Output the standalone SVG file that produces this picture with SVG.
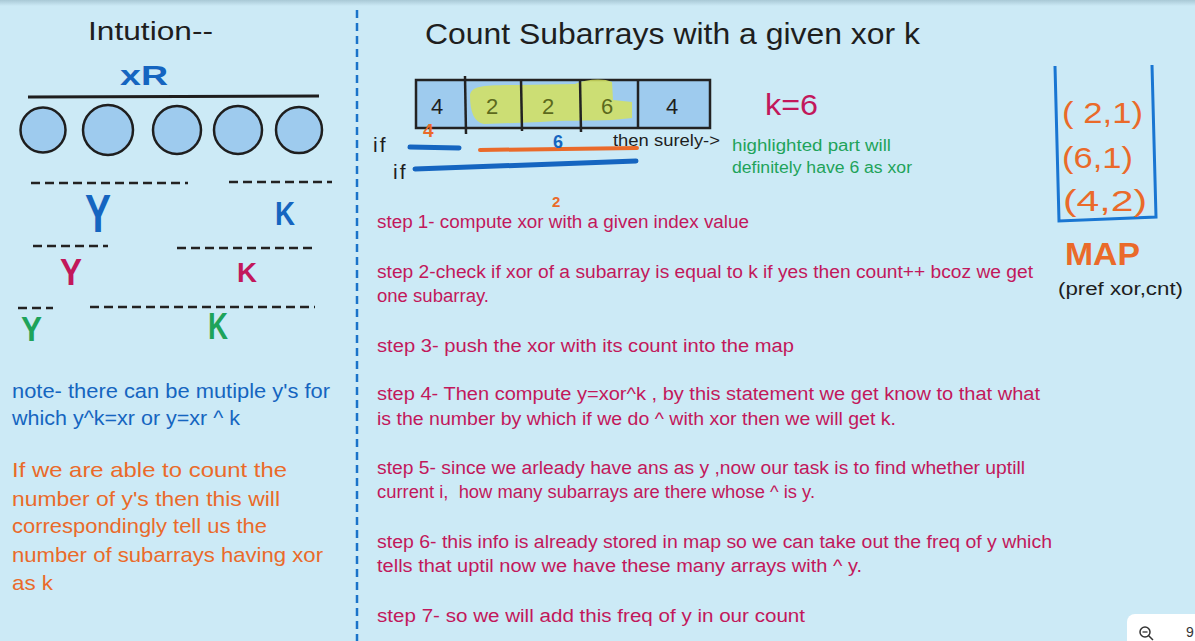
<svg xmlns="http://www.w3.org/2000/svg" width="1195" height="641" viewBox="0 0 1195 641">
<defs>
<linearGradient id="topShade" x1="0" y1="0" x2="0" y2="1">
<stop offset="0" stop-color="#a9c9d6"/>
<stop offset="1" stop-color="#cceaf6"/>
</linearGradient>
</defs>
<style>
text{font-family:"Liberation Sans","DejaVu Sans",sans-serif;}
.blk{fill:#1e1e1e;}
.step{fill:#c2185b;font-size:18px;}
.note{fill:#1565c0;font-size:20px;}
.org{fill:#ea6a2a;font-size:21px;}
.grn{fill:#1ea35a;font-size:16px;}
.dash{stroke:#222;stroke-width:2.5;stroke-dasharray:9 5;fill:none;}
.cell{fill:#9ecbee;stroke:#222;stroke-width:2.5;}
.circ{fill:#9ecbee;stroke:#1e1e1e;stroke-width:2.5;}
.big{font-weight:bold;}
</style>
<rect x="0" y="0" width="1195" height="641" fill="#cceaf6"/>
<rect x="0" y="0" width="1195" height="6" fill="url(#topShade)"/>

<line x1="357" y1="10" x2="357" y2="641" stroke="#1a73c9" stroke-width="2.5" stroke-dasharray="8 5"/>

<g id="intuition">
<text x="88" y="40" class="blk" font-size="26" textLength="125" lengthAdjust="spacingAndGlyphs">Intution--</text>
<text x="120" y="85" fill="#1565c0" font-size="28" class="big" textLength="48" lengthAdjust="spacingAndGlyphs">xR</text>
<line x1="28" y1="97" x2="319" y2="96" stroke="#1e1e1e" stroke-width="3"/>
<circle class="circ" cx="43" cy="130" r="22.5"/>
<circle class="circ" cx="108" cy="130" r="25"/>
<circle class="circ" cx="177" cy="130" r="24"/>
<circle class="circ" cx="238" cy="130" r="24"/>
<circle class="circ" cx="299" cy="130" r="23"/>
</g>

<g id="segments">
<line class="dash" x1="31" y1="183" x2="188" y2="183"/>
<line class="dash" x1="229" y1="182" x2="332" y2="182"/>
<line class="dash" x1="33" y1="246" x2="108" y2="246"/>
<line class="dash" x1="177" y1="248" x2="313" y2="248"/>
<line class="dash" x1="18" y1="308" x2="53" y2="308"/>
<line class="dash" x1="90" y1="307" x2="315" y2="307"/>
<text x="85" y="232" fill="#1565c0" font-size="54" class="big" textLength="26" lengthAdjust="spacingAndGlyphs">Y</text>
<text x="275" y="225" fill="#1565c0" font-size="33" class="big" textLength="20" lengthAdjust="spacingAndGlyphs">K</text>
<text x="60" y="285" fill="#c2185b" font-size="37" class="big" textLength="22" lengthAdjust="spacingAndGlyphs">Y</text>
<text x="237" y="282" fill="#c2185b" font-size="27" class="big" textLength="20" lengthAdjust="spacingAndGlyphs">K</text>
<text x="21" y="341" fill="#1ea35a" font-size="35" class="big" textLength="21" lengthAdjust="spacingAndGlyphs">Y</text>
<text x="208" y="339" fill="#1ea35a" font-size="36" class="big" textLength="20" lengthAdjust="spacingAndGlyphs">K</text>
</g>

<g id="note">
<text x="12" y="398" class="note" textLength="318" lengthAdjust="spacingAndGlyphs">note- there can be mutiple y's for</text>
<text x="12" y="425" class="note" textLength="228" lengthAdjust="spacingAndGlyphs">which y^k=xr or y=xr ^ k</text>
</g>

<g id="conclusion">
<text x="12" y="477" class="org" textLength="275" lengthAdjust="spacingAndGlyphs">If we are able to count the</text>
<text x="12" y="506" class="org" textLength="268" lengthAdjust="spacingAndGlyphs">number of y's then this will</text>
<text x="12" y="533" class="org" textLength="255" lengthAdjust="spacingAndGlyphs">correspondingly tell us the</text>
<text x="12" y="562" class="org" textLength="311" lengthAdjust="spacingAndGlyphs">number of subarrays having xor</text>
<text x="12" y="590" class="org" textLength="41" lengthAdjust="spacingAndGlyphs">as k</text>
</g>

<g id="title">
<text x="425" y="44" class="blk" font-size="29" textLength="495" lengthAdjust="spacingAndGlyphs">Count Subarrays with a given xor k</text>
</g>

<g id="array">
<rect class="cell" x="416" y="80" width="294" height="48"/>
<path d="M470,95 C472,86 482,85 520,85 L575,84 C586,79 604,78 612,82 L613,100 L632,102 L632,118 L612,120 C590,121 560,120 540,122 L484,124 C474,122 470,112 470,95 Z" fill="#d3e25e" opacity="0.85"/>
<line x1="465" y1="76" x2="466" y2="134" stroke="#222" stroke-width="2.5"/>
<line x1="521" y1="79" x2="522" y2="131" stroke="#222" stroke-width="2.5"/>
<line x1="580" y1="79" x2="581" y2="132" stroke="#222" stroke-width="2.5"/>
<line x1="638" y1="79" x2="638" y2="128" stroke="#222" stroke-width="2.5"/>
<text x="437" y="114" class="blk" font-size="22" text-anchor="middle">4</text>
<text x="492" y="114" fill="#5c6a1c" font-size="22" text-anchor="middle">2</text>
<text x="548" y="114" fill="#5c6a1c" font-size="22" text-anchor="middle">2</text>
<text x="607" y="114" fill="#5c6a1c" font-size="22" text-anchor="middle">6</text>
<text x="672" y="114" class="blk" font-size="22" text-anchor="middle">4</text>
</g>

<g id="k-value">
<text x="765" y="115" fill="#c2185b" font-size="30" textLength="53" lengthAdjust="spacingAndGlyphs">k=6</text>
</g>

<g id="prefix-marks">
<text x="423" y="137" fill="#ea6a2a" font-size="19" class="big">4</text>
<text x="373" y="152" class="blk" font-size="21" letter-spacing="2">if</text>
<line x1="410" y1="147" x2="459" y2="148" stroke="#1565c0" stroke-width="5" stroke-linecap="round"/>
<line x1="480" y1="150" x2="637" y2="148" stroke="#ea6a2a" stroke-width="4" stroke-linecap="round"/>
<text x="553" y="148" fill="#1565c0" font-size="18" class="big">6</text>
<text x="613" y="146" class="blk" font-size="17" textLength="107" lengthAdjust="spacingAndGlyphs">then surely-&gt;</text>
<text x="393" y="179" class="blk" font-size="21" letter-spacing="2">if</text>
<line x1="415" y1="169" x2="636" y2="161" stroke="#1565c0" stroke-width="5" stroke-linecap="round"/>
<text x="732" y="151" class="grn" textLength="159" lengthAdjust="spacingAndGlyphs">highlighted part will</text>
<text x="732" y="173" class="grn" textLength="180" lengthAdjust="spacingAndGlyphs">definitely have 6 as xor</text>
</g>

<g id="map">
<path d="M1055,66 L1059,221 L1156,217 L1152,65" fill="none" stroke="#1976d2" stroke-width="3"/>
<text x="1062" y="123" fill="#ea6a2a" font-size="30" textLength="81" lengthAdjust="spacingAndGlyphs">( 2,1)</text>
<text x="1062" y="168" fill="#ea6a2a" font-size="30" textLength="71" lengthAdjust="spacingAndGlyphs">(6,1)</text>
<text x="1063" y="211" fill="#ea6a2a" font-size="30" textLength="84" lengthAdjust="spacingAndGlyphs">(4,2)</text>
<text x="1065" y="265" fill="#ea6a2a" font-size="32" class="big" textLength="75" lengthAdjust="spacingAndGlyphs">MAP</text>
<text x="1058" y="295" class="blk" font-size="18" textLength="125" lengthAdjust="spacingAndGlyphs">(pref xor,cnt)</text>
</g>

<g id="steps">
<text x="552" y="207" fill="#ea6a2a" font-size="15" class="big">2</text>
<text x="377" y="228" class="step" textLength="372" lengthAdjust="spacingAndGlyphs">step 1- compute xor with a given index value</text>
<text x="377" y="278" class="step" textLength="656" lengthAdjust="spacingAndGlyphs">step 2-check if xor of a subarray is equal to k if yes then count++ bcoz we get</text>
<text x="377" y="302" class="step" textLength="112" lengthAdjust="spacingAndGlyphs">one subarray.</text>
<text x="377" y="352" class="step" textLength="417" lengthAdjust="spacingAndGlyphs">step 3- push the xor with its count into the map</text>
<text x="377" y="400" class="step" textLength="663" lengthAdjust="spacingAndGlyphs">step 4- Then compute y=xor^k , by this statement we get know to that what</text>
<text x="377" y="425" class="step" textLength="519" lengthAdjust="spacingAndGlyphs">is the number by which if we do ^ with xor then we will get k.</text>
<text x="377" y="474" class="step" textLength="648" lengthAdjust="spacingAndGlyphs">step 5- since we arleady have ans as y ,now our task is to find whether uptill</text>
<text x="377" y="498" class="step" style="white-space:pre" textLength="438" lengthAdjust="spacingAndGlyphs">current i,  how many subarrays are there whose ^ is y.</text>
<text x="377" y="548" class="step" textLength="675" lengthAdjust="spacingAndGlyphs">step 6- this info is already stored in map so we can take out the freq of y which</text>
<text x="377" y="572" class="step" textLength="485" lengthAdjust="spacingAndGlyphs">tells that uptil now we have these many arrays with ^ y.</text>
<text x="377" y="622" class="step" textLength="428" lengthAdjust="spacingAndGlyphs">step 7- so we will add this freq of y in our count</text>
</g>

<g id="zoom-widget">
<rect x="1127" y="614" width="80" height="40" rx="8" fill="#ffffff"/>
<circle cx="1145" cy="632" r="5" fill="none" stroke="#333" stroke-width="1.5"/>
<line x1="1142.5" y1="632" x2="1147.5" y2="632" stroke="#333" stroke-width="1.3"/>
<line x1="1148.7" y1="635.7" x2="1153" y2="640" stroke="#333" stroke-width="1.5"/>
<text x="1186" y="637" fill="#333" font-size="14">9</text>
</g>
</svg>
